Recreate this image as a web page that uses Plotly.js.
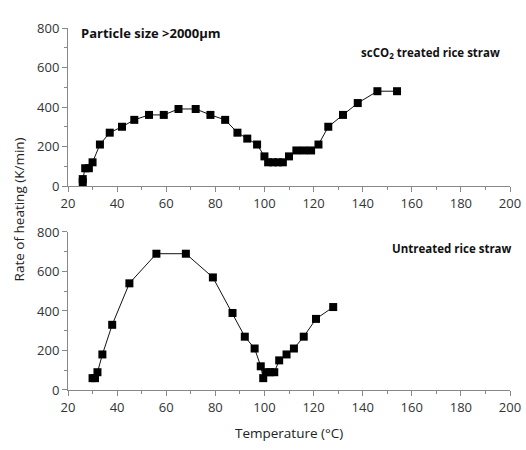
<!DOCTYPE html>
<html>
<head>
<meta charset="utf-8">
<script src="https://cdn.plot.ly/plotly-3.0.1.min.js"></script>
<style>html,body{margin:0;padding:0;background:#fff;}#chart{width:526px;height:450px;}</style>
</head>
<body>
<div id="chart"></div>
<script>
// scCO2 treated rice straw (top panel)
const treatedTemp = [26, 26, 27, 28.5, 30, 33, 37, 42, 47, 53, 59, 65, 72, 78, 84, 89, 93, 97, 100, 101.5, 103.5, 105.5, 107.5, 110, 113, 116, 119, 122, 126, 132, 138, 146, 154];
const treatedRate = [20, 35, 90, 90, 120, 210, 270, 300, 335, 360, 360, 390, 390, 360, 335, 270, 240, 210, 150, 120, 120, 120, 120, 150, 180, 180, 180, 210, 300, 360, 420, 480, 480];
// Untreated rice straw (bottom panel)
const untreatedTemp = [30, 31, 32, 34, 38, 45, 56, 68, 79, 87, 92, 96, 98.5, 99.5, 100.7, 102.3, 104, 106, 109, 112, 116, 121, 128];
const untreatedRate = [60, 60, 90, 180, 330, 540, 690, 690, 570, 390, 270, 210, 120, 60, 90, 90, 90, 150, 180, 210, 270, 360, 420];

const xTicks = [20, 40, 60, 80, 100, 120, 140, 160, 180, 200];
const yTicks = [0, 200, 400, 600, 800];

const font = {family: 'Open Sans, sans-serif', size: 13, color: '#333'};
const axisCommon = {
  showline: true, linecolor: '#888', linewidth: 1, showgrid: false, zeroline: false,
  ticks: 'outside', ticklen: 5, tickcolor: '#888', tickwidth: 1,
  tickfont: font, mirror: false
};

const traceStyle = {mode: 'lines+markers', line: {color: '#111', width: 1}, marker: {symbol: 'square', size: 8, color: '#000'}, showlegend: false, cliponaxis: false};

const data = [
  Object.assign({x: treatedTemp, y: treatedRate, xaxis: 'x', yaxis: 'y'}, traceStyle),
  Object.assign({x: untreatedTemp, y: untreatedRate, xaxis: 'x2', yaxis: 'y2'}, traceStyle)
];

const layout = {
  width: 526, height: 450,
  margin: {l: 68, r: 16, t: 28, b: 60},
  paper_bgcolor: '#fff', plot_bgcolor: '#fff',
  font: font,
  xaxis: Object.assign({}, axisCommon, {domain: [0, 1], range: [20, 200], tickvals: xTicks, anchor: 'y',
    minor: {dtick: 10, ticks: 'outside', ticklen: 3, tickcolor: '#888'}}),
  yaxis: Object.assign({}, axisCommon, {domain: [0.5635, 1], range: [0, 800], tickvals: yTicks, anchor: 'x',
    minor: {dtick: 100, ticks: 'outside', ticklen: 3, tickcolor: '#888'}}),
  xaxis2: Object.assign({}, axisCommon, {domain: [0, 1], range: [20, 200], tickvals: xTicks, anchor: 'y2',
    minor: {dtick: 10, ticks: 'outside', ticklen: 3, tickcolor: '#888'}}),
  yaxis2: Object.assign({}, axisCommon, {domain: [0, 0.4365], range: [0, 800], tickvals: yTicks, anchor: 'x2',
    minor: {dtick: 100, ticks: 'outside', ticklen: 3, tickcolor: '#888'}}),
  annotations: [
    {text: '<b>Particle size >2000μm</b>', xref: 'paper', yref: 'paper', x: 0.025, y: 0.985, xanchor: 'left', yanchor: 'middle', showarrow: false, font: {family: 'Open Sans, sans-serif', size: 13, color: '#111'}},
    {text: '<b>scCO<sub>2</sub> treated rice straw</b>', xref: 'paper', yref: 'paper', x: 0.982, y: 0.93, xanchor: 'right', yanchor: 'middle', showarrow: false, font: {family: 'Open Sans, sans-serif', size: 11.5, color: '#111'}},
    {text: '<b>Untreated rice straw</b>', xref: 'paper', yref: 'paper', x: 1.009, y: 0.392, xanchor: 'right', yanchor: 'middle', showarrow: false, font: {family: 'Open Sans, sans-serif', size: 11.5, color: '#111'}},
    {text: 'Rate of heating (K/min)', xref: 'paper', yref: 'paper', x: -0.11, y: 0.5, xanchor: 'center', yanchor: 'middle', textangle: -90, showarrow: false, font: {family: 'Open Sans, sans-serif', size: 13.5, color: '#222'}},
    {text: 'Temperature (°C)', xref: 'paper', yref: 'paper', x: 0.5, y: -0.118, xanchor: 'center', yanchor: 'middle', showarrow: false, font: {family: 'Open Sans, sans-serif', size: 13.5, color: '#222'}}
  ]
};

Plotly.newPlot('chart', data, layout, {staticPlot: true, displayModeBar: false});
</script>
</body>
</html>
